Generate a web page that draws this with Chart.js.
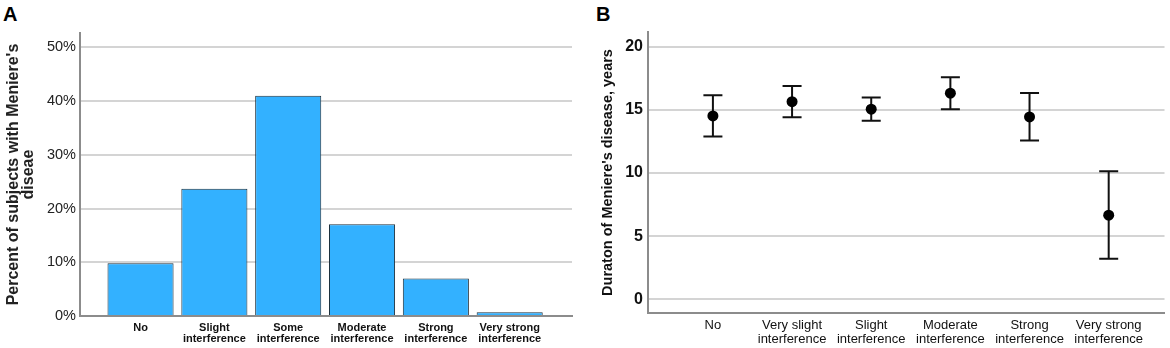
<!DOCTYPE html>
<html>
<head>
<meta charset="utf-8">
<script src="https://cdn.jsdelivr.net/npm/chart.js@4/dist/chart.umd.min.js"></script>
<style>
  html, body { margin: 0; padding: 0; background: #fff; }
  body { width: 1170px; height: 348px; position: relative; overflow: hidden; font-family: "Liberation Sans", Arial, sans-serif; }
  .panel-label { position: absolute; font-weight: bold; font-size: 20px; line-height: 20px; color: #000; }
  canvas { position: absolute; top: 0; }
</style>
</head>
<body>
<div class="panel-label" style="left:3px; top:4px;">A</div>
<div class="panel-label" style="left:596px; top:4px;">B</div>
<canvas id="chartA" width="585" height="348" style="left:0px;"></canvas>
<canvas id="chartB" width="590" height="348" style="left:580px;"></canvas>
<script>
// ---- Panel A data ----
const catsA = [['No'], ['Slight', 'interference'], ['Some', 'interference'], ['Moderate', 'interference'], ['Strong', 'interference'], ['Very strong', 'interference']];
const percentA = [9.8, 23.7, 41.0, 17.1, 7.0, 0.7];
const yTicksA = [0, 10, 20, 30, 40, 50];

// ---- Panel B data ----
const catsB = [['No'], ['Very slight', 'interference'], ['Slight', 'interference'], ['Moderate', 'interference'], ['Strong', 'interference'], ['Very strong', 'interference']];
const meanB = [14.52, 15.65, 15.05, 16.32, 14.44, 6.67];
const lowerB = [12.89, 14.42, 14.13, 15.05, 12.57, 3.22];
const upperB = [16.16, 16.89, 15.97, 17.58, 16.34, 10.15];
const yTicksB = [0, 5, 10, 15, 20];

const FONT = '"Liberation Sans", Arial, sans-serif';
const GRID = '#d4d4d4';
const AXIS = '#8c8c8c';

// ---------- Chart A ----------
new Chart(document.getElementById('chartA'), {
  type: 'bar',
  data: {
    datasets: [{
      data: percentA.map((v, i) => ({ x: i, y: v })),
      backgroundColor: '#33b1ff',
      borderColor: '#1d2f3b',
      borderWidth: 1,
      barPercentage: 1,
      categoryPercentage: 0.895
    }]
  },
  options: {
    responsive: false,
    devicePixelRatio: 1,
    animation: false,
    layout: { padding: { top: 33, right: 13, left: 0, bottom: 0 } },
    plugins: { legend: { display: false }, tooltip: { enabled: false } },
    scales: {
      x: {
        type: 'linear',
        min: -0.82,
        max: 5.844,
        offset: false,
        grid: { display: false, drawTicks: false },
        border: { display: true, color: AXIS, width: 2 },
        afterBuildTicks: s => { s.ticks = catsA.map((_, i) => ({ value: i })); },
        afterFit: s => { s.height = 32; },
        ticks: {
          autoSkip: false, maxRotation: 0, minRotation: 0, padding: 6,
          color: '#111',
          font: { family: FONT, size: 11, weight: 'bold', lineHeight: 1.03 },
          callback: v => catsA[v]
        }
      },
      y: {
        min: 0,
        max: 52.7,
        grid: { color: GRID, lineWidth: 2, drawTicks: false },
        border: { display: true, color: AXIS, width: 2 },
        afterBuildTicks: s => { s.ticks = yTicksA.map(v => ({ value: v })); },
        afterFit: s => { s.width = 80; },
        ticks: {
          padding: 4, color: '#222',
          font: { family: FONT, size: 14.5 },
          callback: v => v + '%'
        },
        title: {
          display: true,
          text: ["Percent of subjects with Meniere's", 'diseae'],
          color: '#222',
          font: { family: FONT, size: 16, weight: 'bold', lineHeight: 0.94 },
          padding: { top: 6, bottom: 0 }
        }
      }
    }
  }
});

// ---------- Chart B ----------
const errorBars = {
  id: 'errorBars',
  beforeDatasetsDraw(chart) {
    const { ctx, scales: { x, y } } = chart;
    ctx.save();
    ctx.strokeStyle = '#111';
    ctx.lineWidth = 2;
    const cap = 9.5;
    meanB.forEach((m, i) => {
      const px = x.getPixelForValue(i);
      const pLo = y.getPixelForValue(lowerB[i]);
      const pHi = y.getPixelForValue(upperB[i]);
      ctx.beginPath();
      ctx.moveTo(px, pLo); ctx.lineTo(px, pHi);
      ctx.moveTo(px - cap, pLo); ctx.lineTo(px + cap, pLo);
      ctx.moveTo(px - cap, pHi); ctx.lineTo(px + cap, pHi);
      ctx.stroke();
    });
    ctx.restore();
  }
};

new Chart(document.getElementById('chartB'), {
  type: 'scatter',
  data: {
    datasets: [{
      data: meanB.map((v, i) => ({ x: i, y: v })),
      backgroundColor: '#000',
      borderColor: '#000',
      pointRadius: 5.5,
      pointBorderWidth: 0,
      showLine: false
    }]
  },
  options: {
    responsive: false,
    devicePixelRatio: 1,
    animation: false,
    layout: { padding: { top: 32, right: 4, left: 0, bottom: 0 } },
    plugins: { legend: { display: false }, tooltip: { enabled: false } },
    scales: {
      x: {
        type: 'linear',
        min: -0.82,
        max: 5.705,
        offset: false,
        grid: { display: false, drawTicks: false },
        border: { display: true, color: AXIS, width: 2 },
        afterBuildTicks: s => { s.ticks = catsB.map((_, i) => ({ value: i })); },
        afterFit: s => { s.height = 35; },
        ticks: {
          autoSkip: false, maxRotation: 0, minRotation: 0, padding: 5,
          color: '#111',
          font: { family: FONT, size: 13, lineHeight: 1.08 },
          callback: v => catsB[v]
        }
      },
      y: {
        min: -1.07,
        max: 21.16,
        grid: { color: GRID, lineWidth: 2, drawTicks: false },
        border: { display: true, color: AXIS, width: 2 },
        afterBuildTicks: s => { s.ticks = yTicksB.map(v => ({ value: v })); },
        afterFit: s => { s.width = 68; },
        ticks: {
          padding: 5, color: '#111',
          font: { family: FONT, size: 16, weight: 'bold' }
        },
        title: {
          display: true,
          text: "Duraton of Meniere's disease, years",
          color: '#111',
          font: { family: FONT, size: 14.5, weight: 'bold', lineHeight: 1.2 },
          padding: { top: 19, bottom: 0 }
        }
      }
    }
  },
  plugins: [errorBars]
});
</script>
</body>
</html>
